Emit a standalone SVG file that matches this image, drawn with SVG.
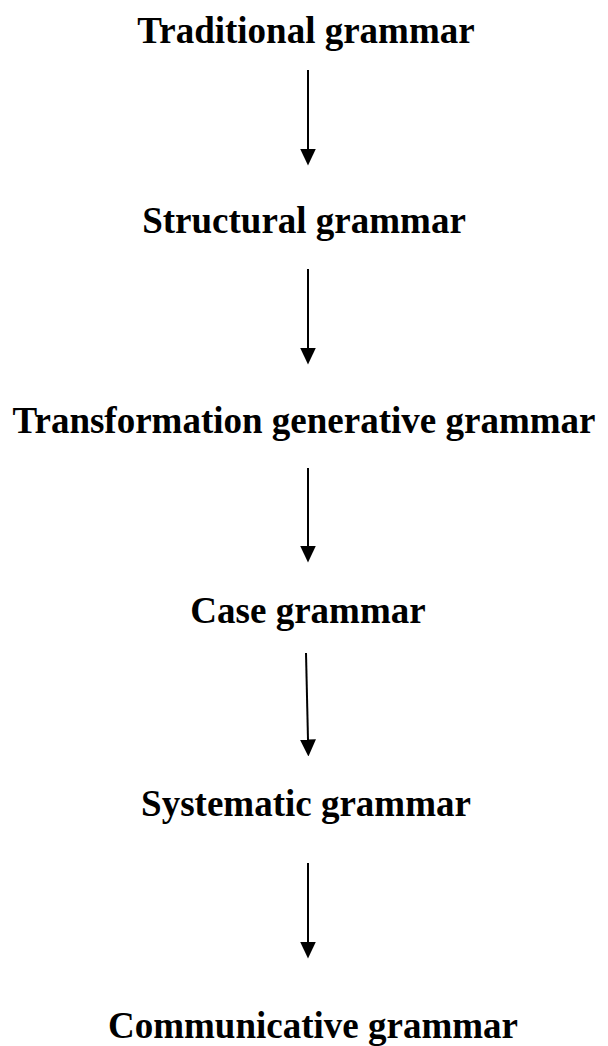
<svg xmlns="http://www.w3.org/2000/svg" width="608" height="1046" viewBox="0 0 608 1046">
<style>
.t{font-family:"Liberation Serif","Times New Roman",serif;font-weight:bold;font-size:37px;fill:#000;text-anchor:middle}
.c{stroke:#000;stroke-width:2;fill:none}
</style>
<defs>
<marker id="ah" viewBox="0 0 17 16" refX="0.5" refY="8" markerWidth="17" markerHeight="16" markerUnits="userSpaceOnUse" orient="auto">
<path d="M0,0 L17,8 L0,16 Z" fill="#000"/>
</marker>
</defs>
<rect width="608" height="1046" fill="#fff"/>
<g id="n1"><text class="t" x="306" y="43">Traditional grammar</text></g>
<g id="n2"><text class="t" x="304" y="233">Structural grammar</text></g>
<g id="n3"><text class="t" x="304" y="433">Transformation generative grammar</text></g>
<g id="n4"><text class="t" x="308" y="623">Case grammar</text></g>
<g id="n5"><text class="t" x="306" y="816">Systematic grammar</text></g>
<g id="n6"><text class="t" x="313" y="1038">Communicative grammar</text></g>
<g id="connectors">
<path class="c" d="M308,70 V149" marker-end="url(#ah)"/>
<path class="c" d="M308,269 V348" marker-end="url(#ah)"/>
<path class="c" d="M308,468 V546" marker-end="url(#ah)"/>
<path class="c" d="M306,653 L308,740" marker-end="url(#ah)"/>
<path class="c" d="M308,863 V942" marker-end="url(#ah)"/>
</g>
</svg>
